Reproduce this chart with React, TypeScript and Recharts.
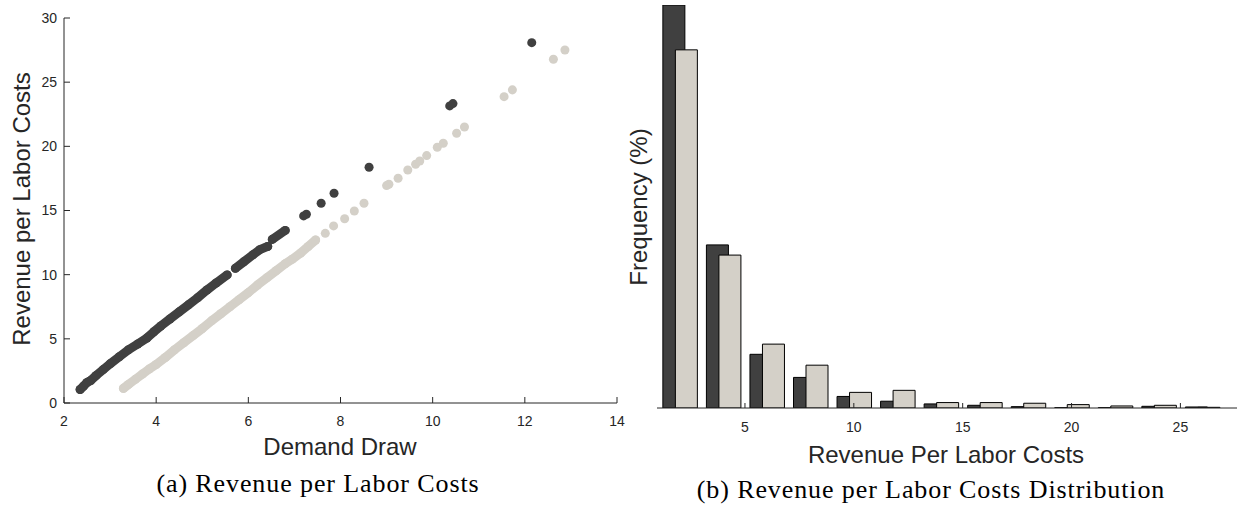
import { ScatterChart, Scatter, XAxis, YAxis, BarChart, Bar } from 'recharts';

const DARK = '#404040';
const LIGHT = '#d4d0c8';
const AXIS = '#262626';
const SANS = '"Liberation Sans", Arial, sans-serif';
const SERIF = '"Liberation Serif", "Times New Roman", serif';

// (a) Demand Draw vs Revenue per Labor Costs
// dense stretches (drawn as a thick band of overlapping dots)
const darkBandA = [
  [2.35, 1.05], [2.42, 1.3], [2.5, 1.6], [2.58, 1.75], [2.7, 2.15], [2.85, 2.6],
  [3.0, 3.05], [3.2, 3.6], [3.4, 4.15], [3.6, 4.6], [3.8, 5.07], [3.95, 5.55],
  [4.1, 6.0], [4.3, 6.55], [4.5, 7.1], [4.7, 7.65], [4.9, 8.2], [5.1, 8.8],
  [5.3, 9.35], [5.54, 9.98],
];
const darkBandB = [[5.72, 10.5], [5.9, 11.0], [6.1, 11.55], [6.25, 11.95], [6.42, 12.2]];
const darkBandC = [[6.52, 12.75], [6.8, 13.45]];
const darkDots = [
  [7.2, 14.58], [7.26, 14.71], [7.58, 15.56], [7.86, 16.34], [8.62, 18.37],
  [10.37, 23.15], [10.44, 23.33], [12.15, 28.08],
];
const lightBand = [
  [3.29, 1.14], [3.4, 1.45], [3.55, 1.85], [3.7, 2.25], [3.85, 2.65], [4.0, 3.0],
  [4.2, 3.55], [4.4, 4.15], [4.6, 4.7], [4.8, 5.25], [5.0, 5.8], [5.2, 6.4],
  [5.4, 6.95], [5.6, 7.5], [5.8, 8.05], [6.0, 8.6], [6.2, 9.2], [6.4, 9.75],
  [6.6, 10.3], [6.8, 10.85], [6.95, 11.2], [7.13, 11.67], [7.3, 12.2], [7.46, 12.7],
];
const lightDots = [
  [7.67, 13.22], [7.85, 13.8], [8.09, 14.36], [8.3, 14.96], [8.51, 15.56],
  [9.0, 16.94], [9.05, 17.05], [9.25, 17.51], [9.46, 18.16], [9.63, 18.6], [9.72, 18.86],
  [9.87, 19.28], [10.1, 19.93], [10.23, 20.24], [10.52, 21.02], [10.69, 21.51],
  [11.55, 23.87], [11.73, 24.4], [12.62, 26.79], [12.87, 27.51],
];
const xTicksA = [2, 4, 6, 8, 10, 12, 14];
const yTicksA = [0, 5, 10, 15, 20, 25, 30];

// (b) distribution, frequency in % per bin of width 2
const bins = [2, 4, 6, 8, 10, 12, 14, 16, 18, 20, 22, 24, 26];
const darkFreq = [59.3, 24.0, 7.9, 4.5, 1.7, 1.0, 0.6, 0.4, 0.2, 0.05, 0.05, 0.25, 0.15];
const lightFreq = [52.7, 22.5, 9.4, 6.3, 2.3, 2.6, 0.8, 0.8, 0.7, 0.5, 0.3, 0.4, 0.1];
const xTicksB = [5, 10, 15, 20, 25];

const pts = (arr: number[][]) => arr.map(([x, y]) => ({ x, y }));
const histData = bins.map((bin, i) => ({ bin, dark: darkFreq[i], light: lightFreq[i] }));

const tickStyle = { fontSize: 14, fill: AXIS, fontFamily: SANS };
const band = (c: string) => ({ stroke: c, strokeWidth: 9, strokeLinecap: 'round', strokeLinejoin: 'round' });

function ScatterPanel() {
  return (
    <ScatterChart width={640} height={510} margin={{ top: 18, right: 23, left: 24, bottom: 77 }}>
      <XAxis
        type="number"
        dataKey="x"
        domain={[2, 14]}
        ticks={xTicksA}
        allowDataOverflow
        height={30}
        stroke={AXIS}
        tickSize={-6}
        tickMargin={19}
        tick={tickStyle}
      />
      <YAxis
        type="number"
        dataKey="y"
        domain={[0, 30]}
        ticks={yTicksA}
        allowDataOverflow
        width={40}
        stroke={AXIS}
        tickSize={-6}
        tickMargin={13}
        tick={tickStyle}
      />
      <Scatter data={pts(lightBand)} fill={LIGHT} line={band(LIGHT)} isAnimationActive={false} />
      <Scatter data={pts(lightDots)} fill={LIGHT} isAnimationActive={false} />
      <Scatter data={pts(darkBandA)} fill={DARK} line={band(DARK)} isAnimationActive={false} />
      <Scatter data={pts(darkBandB)} fill={DARK} line={band(DARK)} isAnimationActive={false} />
      <Scatter data={pts(darkBandC)} fill={DARK} line={band(DARK)} isAnimationActive={false} />
      <Scatter data={pts(darkDots)} fill={DARK} isAnimationActive={false} />
    </ScatterChart>
  );
}

function HistPanel() {
  return (
    <BarChart
      width={598}
      height={510}
      data={histData}
      margin={{ top: 5, right: 1, left: 17, bottom: 72 }}
      barGap={-9.5}
    >
      <XAxis
        type="number"
        dataKey="bin"
        domain={[0.96, 27.6]}
        ticks={xTicksB}
        allowDataOverflow
        height={30}
        stroke={AXIS}
        tickSize={-5}
        tickMargin={19}
        tick={tickStyle}
      />
      <YAxis width={0} domain={[0, 59.3]} allowDataOverflow tick={false} tickLine={false} stroke={AXIS} />
      <Bar dataKey="dark" barSize={22} fill={DARK} stroke="#000" strokeWidth={1} isAnimationActive={false} />
      <Bar dataKey="light" barSize={22} fill={LIGHT} stroke="#000" strokeWidth={1} isAnimationActive={false} />
    </BarChart>
  );
}

export default function App() {
  const lab = { fontFamily: SANS, fontSize: 24, fill: AXIS };
  const cap = { fontFamily: SERIF, fontSize: 26, fill: '#000', letterSpacing: 0.9 };
  return (
    <div style={{ position: 'absolute', left: 0, top: 0, width: 1238, height: 510, background: '#fff' }}>
      <div style={{ position: 'absolute', left: 0, top: 0 }}>
        <ScatterPanel />
      </div>
      <div style={{ position: 'absolute', left: 640, top: 0 }}>
        <HistPanel />
      </div>
      <svg width={1238} height={510} style={{ position: 'absolute', left: 0, top: 0, pointerEvents: 'none' }}>
        <text x={30} y={209} transform="rotate(-90 30 209)" textAnchor="middle" style={lab}>Revenue per Labor Costs</text>
        <text x={340} y={455} textAnchor="middle" style={lab}>Demand Draw</text>
        <text x={647} y={207} transform="rotate(-90 647 207)" textAnchor="middle" style={lab}>Frequency (%)</text>
        <text x={946} y={463} textAnchor="middle" style={lab}>Revenue Per Labor Costs</text>
        <text x={318} y={492} textAnchor="middle" style={cap}>(a) Revenue per Labor Costs</text>
        <text x={931} y={498} textAnchor="middle" style={cap}>(b) Revenue per Labor Costs Distribution</text>
      </svg>
    </div>
  );
}
